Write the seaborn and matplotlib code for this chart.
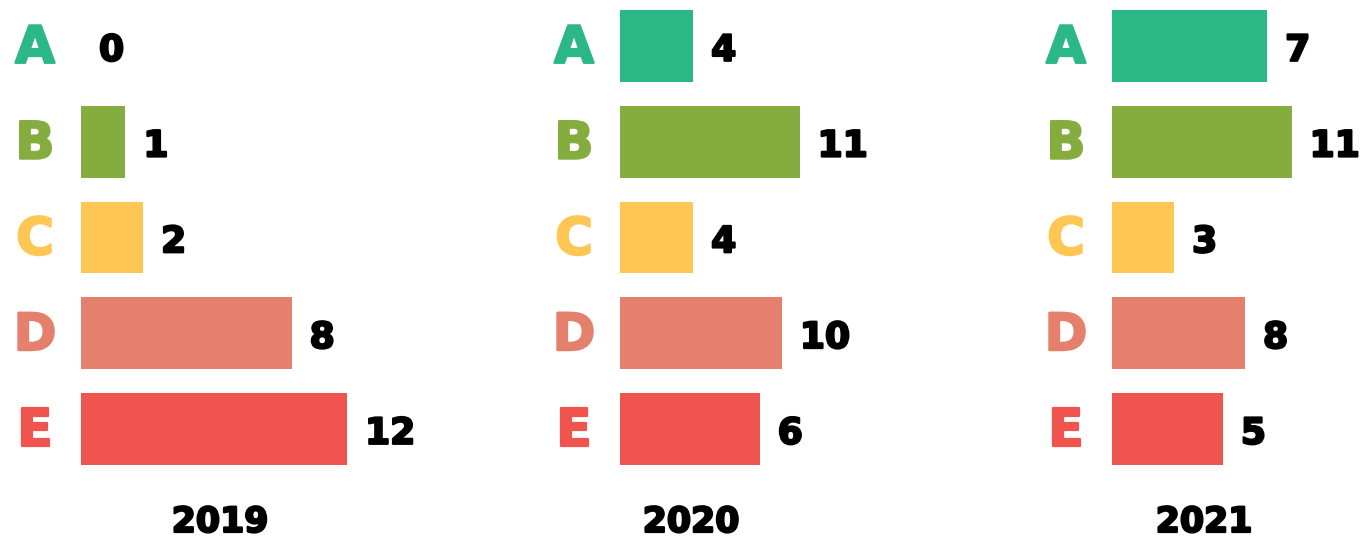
import matplotlib.pyplot as plt
import matplotlib.patheffects as pe
import seaborn as sns

sns.set_theme(style="white")
plt.rcParams['font.family'] = ['DejaVu Sans']

# data
years = ["2019", "2020", "2021"]
grades = ["A", "B", "C", "D", "E"]
counts_2019 = [0, 1, 2, 8, 12]
counts_2020 = [4, 11, 4, 10, 6]
counts_2021 = [7, 11, 3, 8, 5]
# bar lengths as drawn in the picture (not proportional to the counts)
bars_2019 = [0.0, 2.0, 2.8, 9.5, 12.0]
bars_2020 = [3.3, 8.1, 3.3, 7.3, 6.3]
bars_2021 = [7.0, 8.1, 2.8, 6.0, 5.0]
colors = ["#2cb786", "#84ac3e", "#fec652", "#e5806c", "#f0544e"]

counts = [counts_2019, counts_2020, counts_2021]
bars = [bars_2019, bars_2020, bars_2021]

W, H = 1361, 538
fig = plt.figure(figsize=(W / 100, H / 100), dpi=100)

px = 22.17                      # pixels per bar unit
bar_left = [81, 620, 1112]      # where bars start (px)
year_x = [220, 691, 1204]       # year label centres (px)
ax_w = 300


def heavy(c):
    # fake a black-weight font by stroking the bold glyphs
    return [pe.withStroke(linewidth=1.6, foreground=c)]


for i, year in enumerate(years):
    ax = fig.add_axes([bar_left[i] / W, 0, ax_w / W, 1])
    sns.barplot(x=bars[i], y=grades, hue=grades, palette=colors,
                legend=False, width=0.75, orient="h", ax=ax,
                saturation=1, linewidth=0)
    ax.set_xlim(0, ax_w / px)
    ax.set_ylim(5.138, -0.48)
    ax.axis("off")
    for j, g in enumerate(grades):
        ax.text(-46 / px, j + 0.03, g, color=colors[j], fontsize=37,
                fontweight="bold", ha="center", va="center", clip_on=False,
                path_effects=heavy(colors[j]))
        ax.text(bars[i][j] + 18 / px, j + 0.05, str(counts[i][j]),
                color="black", fontsize=26, fontweight="bold",
                ha="left", va="center", clip_on=False,
                path_effects=heavy("black"))
    fig.text(year_x[i] / W, 1 - 522 / H, year, fontsize=25, color="black",
             fontweight="bold", ha="center", va="center",
             path_effects=heavy("black"))

fig.savefig("out.png", dpi=100, facecolor="white")
